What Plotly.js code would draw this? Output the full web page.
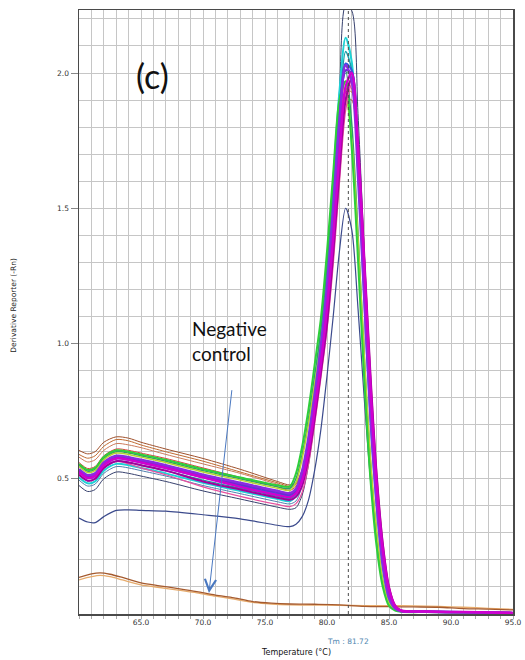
<!DOCTYPE html>
<html>
<head>
<meta charset="utf-8">
<script src="https://cdn.plot.ly/plotly-3.0.1.min.js"></script>
<style>
  html, body { margin: 0; padding: 0; background: #fff; }
  #chart { width: 525px; height: 660px; }
</style>
</head>
<body>
<div id="chart"></div>
<script>
// Melt-curve temperatures (°C) shared by the amplified wells
const temps = [60, 60.7, 61.3, 62, 63, 64, 65, 67, 70, 73, 76, 77, 77.5, 78, 78.5, 79, 79.5, 80, 80.5, 81, 81.5, 82, 82.5, 83, 83.5, 84, 84.5, 85, 85.5, 86, 88, 91, 95];

// Derivative reporter (-Rn) per well
const wellA = [0.605, 0.592, 0.60, 0.635, 0.655, 0.65, 0.635, 0.61, 0.575, 0.535, 0.49, 0.477, 0.485, 0.535, 0.635, 0.77, 0.93, 1.11, 1.37, 1.67, 1.9, 1.9, 1.61, 1.19, 0.77, 0.44, 0.2, 0.08, 0.025, 0.011, 0.009, 0.007, 0.004];
const wellB = [0.58, 0.562, 0.57, 0.605, 0.63, 0.625, 0.615, 0.59, 0.555, 0.52, 0.48, 0.467, 0.478, 0.53, 0.645, 0.79, 0.96, 1.17, 1.45, 1.76, 1.97, 1.94, 1.62, 1.19, 0.76, 0.43, 0.19, 0.068, 0.022, 0.011, 0.009, 0.007, 0.004];
const wellP = [0.59, 0.576, 0.585, 0.62, 0.645, 0.64, 0.625, 0.60, 0.565, 0.525, 0.485, 0.472, 0.48, 0.53, 0.635, 0.775, 0.94, 1.13, 1.40, 1.70, 1.93, 1.93, 1.63, 1.21, 0.78, 0.45, 0.205, 0.08, 0.025, 0.011, 0.009, 0.007, 0.004];
const wellC = [0.56, 0.538, 0.545, 0.585, 0.61, 0.605, 0.595, 0.575, 0.54, 0.505, 0.47, 0.457, 0.472, 0.515, 0.615, 0.75, 0.92, 1.12, 1.38, 1.68, 1.93, 1.98, 1.70, 1.28, 0.83, 0.48, 0.235, 0.09, 0.028, 0.012, 0.009, 0.007, 0.004];
const wellN = [0.495, 0.473, 0.48, 0.52, 0.545, 0.54, 0.53, 0.51, 0.475, 0.445, 0.415, 0.407, 0.418, 0.475, 0.59, 0.75, 0.94, 1.16, 1.44, 1.76, 2.0, 2.0, 1.70, 1.26, 0.81, 0.46, 0.215, 0.08, 0.025, 0.011, 0.009, 0.007, 0.004];
const wellM = [0.475, 0.453, 0.46, 0.50, 0.525, 0.52, 0.51, 0.49, 0.455, 0.425, 0.395, 0.387, 0.393, 0.44, 0.55, 0.72, 0.93, 1.19, 1.53, 1.93, 2.25, 2.23, 1.85, 1.34, 0.85, 0.48, 0.21, 0.075, 0.024, 0.011, 0.009, 0.007, 0.004];
const wellG = [0.505, 0.483, 0.49, 0.53, 0.555, 0.55, 0.54, 0.52, 0.485, 0.455, 0.425, 0.417, 0.437, 0.51, 0.645, 0.83, 1.03, 1.29, 1.60, 1.93, 2.13, 2.04, 1.65, 1.17, 0.72, 0.40, 0.17, 0.055, 0.018, 0.01, 0.008, 0.006, 0.004];
const wellO = [0.515, 0.493, 0.50, 0.54, 0.565, 0.56, 0.55, 0.53, 0.495, 0.465, 0.435, 0.427, 0.443, 0.515, 0.64, 0.81, 1.0, 1.23, 1.53, 1.86, 2.08, 2.01, 1.65, 1.19, 0.74, 0.42, 0.18, 0.06, 0.02, 0.01, 0.008, 0.006, 0.004];
const wellF = [0.55, 0.528, 0.535, 0.575, 0.60, 0.595, 0.585, 0.565, 0.53, 0.50, 0.47, 0.464, 0.50, 0.59, 0.72, 0.88, 1.05, 1.29, 1.60, 1.89, 2.01, 1.81, 1.41, 0.96, 0.57, 0.30, 0.12, 0.04, 0.015, 0.009, 0.008, 0.006, 0.004];
const wellE = [0.545, 0.523, 0.53, 0.57, 0.595, 0.59, 0.58, 0.56, 0.525, 0.495, 0.465, 0.457, 0.487, 0.575, 0.70, 0.85, 1.0, 1.21, 1.49, 1.77, 1.91, 1.75, 1.39, 0.96, 0.58, 0.31, 0.125, 0.04, 0.016, 0.009, 0.008, 0.006, 0.004];
const wellD = [0.555, 0.533, 0.54, 0.58, 0.605, 0.60, 0.59, 0.57, 0.535, 0.505, 0.476, 0.472, 0.52, 0.62, 0.755, 0.92, 1.09, 1.34, 1.63, 1.90, 1.97, 1.72, 1.31, 0.87, 0.50, 0.25, 0.10, 0.03, 0.013, 0.008, 0.007, 0.006, 0.004];
const wellH = [0.525, 0.503, 0.51, 0.55, 0.575, 0.57, 0.56, 0.54, 0.505, 0.475, 0.445, 0.437, 0.45, 0.51, 0.63, 0.79, 0.97, 1.195, 1.485, 1.81, 2.035, 2.01, 1.68, 1.23, 0.78, 0.44, 0.2, 0.07, 0.022, 0.011, 0.009, 0.007, 0.004];
const wellL = [0.515, 0.493, 0.50, 0.54, 0.565, 0.555, 0.54, 0.515, 0.47, 0.435, 0.405, 0.397, 0.408, 0.45, 0.55, 0.70, 0.87, 1.05, 1.29, 1.59, 1.86, 1.96, 1.74, 1.34, 0.90, 0.53, 0.27, 0.105, 0.035, 0.014, 0.01, 0.007, 0.004];
const wellK = [0.515, 0.493, 0.50, 0.54, 0.565, 0.56, 0.55, 0.53, 0.49, 0.46, 0.43, 0.422, 0.433, 0.475, 0.575, 0.72, 0.89, 1.07, 1.33, 1.63, 1.90, 1.98, 1.75, 1.33, 0.89, 0.52, 0.26, 0.10, 0.03, 0.013, 0.009, 0.007, 0.004];
const wellQ = [0.53, 0.508, 0.515, 0.555, 0.58, 0.575, 0.565, 0.545, 0.51, 0.48, 0.45, 0.442, 0.455, 0.515, 0.63, 0.79, 0.97, 1.18, 1.46, 1.78, 2.01, 2.0, 1.67, 1.22, 0.78, 0.44, 0.2, 0.07, 0.022, 0.011, 0.009, 0.007, 0.004];
const wellI = [0.535, 0.513, 0.52, 0.56, 0.585, 0.58, 0.57, 0.55, 0.515, 0.485, 0.455, 0.447, 0.463, 0.53, 0.65, 0.81, 0.99, 1.21, 1.5, 1.82, 2.03, 1.97, 1.62, 1.17, 0.73, 0.41, 0.18, 0.06, 0.02, 0.01, 0.008, 0.006, 0.004];
const wellJ = [0.525, 0.503, 0.51, 0.55, 0.575, 0.57, 0.56, 0.54, 0.505, 0.47, 0.44, 0.432, 0.446, 0.495, 0.60, 0.755, 0.925, 1.13, 1.39, 1.70, 1.95, 2.0, 1.72, 1.29, 0.84, 0.48, 0.235, 0.09, 0.028, 0.012, 0.009, 0.007, 0.004];
// Weak well with a lower peak
const wellLow = [0.355, 0.34, 0.338, 0.36, 0.383, 0.385, 0.383, 0.38, 0.367, 0.352, 0.328, 0.323, 0.332, 0.36, 0.42, 0.53, 0.68, 0.88, 1.1, 1.34, 1.5, 1.42, 1.13, 0.8, 0.5, 0.28, 0.12, 0.04, 0.013, 0.008, 0.006, 0.005, 0.003];

// Negative controls (no template)
const ntcTemps = [60, 61, 61.7, 62.5, 63.5, 65, 66.5, 68, 69.5, 71, 72.5, 74, 75.5, 77, 79, 81, 83, 85, 87, 89, 91, 93, 95];
const ntcBrown = [0.135, 0.148, 0.152, 0.147, 0.135, 0.115, 0.104, 0.094, 0.083, 0.07, 0.06, 0.046, 0.04, 0.037, 0.036, 0.034, 0.028, 0.027, 0.026, 0.025, 0.02, 0.018, 0.015];
const ntcTan = [0.126, 0.138, 0.143, 0.138, 0.126, 0.108, 0.098, 0.088, 0.078, 0.066, 0.055, 0.043, 0.037, 0.034, 0.033, 0.032, 0.031, 0.031, 0.03, 0.028, 0.025, 0.021, 0.017];

// Melting temperature and axis ticks
const meltTm = 81.72;
const xTickVals = [65, 70, 75, 80, 85, 90, 95];
const yTickVals = [0.5, 1.0, 1.5, 2.0];

// Draw order: back to front
const wells = [
  { y: ntcTan,  color: '#e6ab6c', width: 1.3, x: ntcTemps },
  { y: ntcBrown, color: '#a55a2e', width: 1.3, x: ntcTemps },
  { y: wellLow, color: '#3b4a8c', width: 1.2 },
  { y: wellA, color: '#a0522d', width: 1 },
  { y: wellB, color: '#cd7b5b', width: 1 },
  { y: wellP, color: '#c06a30', width: 1 },
  { y: wellC, color: '#dc3c3c', width: 1 },
  { y: wellN, color: '#4f7fb0', width: 1 },
  { y: wellM, color: '#37416e', width: 1 },
  { y: wellG, color: '#1ed2d6', width: 2 },
  { y: wellO, color: '#1a9ca8', width: 1.5 },
  { y: wellF, color: '#2e9e6e', width: 1.5 },
  { y: wellE, color: '#b5d334', width: 1.5 },
  { y: wellD, color: '#2ecf3a', width: 2 },
  { y: wellH, color: '#3355dd', width: 2 },
  { y: wellL, color: '#e8509f', width: 1.2 },
  { y: wellK, color: '#a3009c', width: 2 },
  { y: wellQ, color: '#6a2bd0', width: 2 },
  { y: wellI, color: '#8a2be2', width: 2.5 },
  { y: wellJ, color: '#d000d0', width: 2.5 }
];

const traces = wells.map(w => ({
  type: 'scatter',
  mode: 'lines',
  x: w.x || temps,
  y: w.y,
  line: { color: w.color, width: w.width, shape: 'spline', smoothing: 0.8 },
  hoverinfo: 'skip',
  showlegend: false
}));

const gridColor = '#c6c6c6';
const tickFont = { family: 'DejaVu Sans, sans-serif', size: 7.5, color: '#333' };

const layout = {
  width: 525,
  height: 660,
  margin: { l: 79, r: 12, t: 10, b: 46 },
  paper_bgcolor: '#ffffff',
  plot_bgcolor: '#ffffff',
  showlegend: false,
  xaxis: {
    range: [60, 95],
    tickmode: 'array',
    tickvals: xTickVals,
    ticktext: xTickVals.map(v => v.toFixed(1)),
    tickfont: tickFont,
    ticks: '',
    showgrid: true,
    gridcolor: gridColor,
    gridwidth: 1,
    minor: { dtick: 1, tick0: 60, showgrid: true, gridcolor: gridColor, gridwidth: 1, ticks: 'outside', ticklen: 3, tickcolor: '#aaa' },
    showline: true,
    mirror: true,
    linecolor: '#4a4a4a',
    linewidth: 1.5,
    zeroline: false,
    fixedrange: true
  },
  yaxis: {
    range: [0, 2.233],
    tickmode: 'array',
    tickvals: yTickVals,
    ticktext: yTickVals.map(v => v.toFixed(1)),
    tickfont: tickFont,
    ticks: 'outside',
    ticklen: 7,
    tickcolor: '#888',
    showgrid: true,
    gridcolor: gridColor,
    gridwidth: 1,
    minor: { dtick: 0.1, tick0: 0, showgrid: true, gridcolor: gridColor, gridwidth: 1 },
    showline: true,
    mirror: true,
    linecolor: '#4a4a4a',
    linewidth: 1.5,
    zeroline: false,
    fixedrange: true
  },
  shapes: [
    {
      type: 'line', xref: 'x', yref: 'paper',
      x0: meltTm, x1: meltTm, y0: 0, y1: 1,
      line: { color: '#4a4a4a', width: 1, dash: 'dot' }
    }
  ],
  annotations: [
    {
      text: '(c)', xref: 'x', yref: 'y', x: 65.9, y: 1.99,
      showarrow: false, xanchor: 'center', yanchor: 'middle',
      font: { family: 'Lato, Open Sans, sans-serif', size: 34, color: '#111' }
    },
    {
      text: 'Negative<br>control', xref: 'x', yref: 'y', x: 68.95, y: 1.01,
      showarrow: false, xanchor: 'left', yanchor: 'middle', align: 'left',
      font: { family: 'Lato, Open Sans, sans-serif', size: 19, color: '#111' }
    },
    {
      text: '', xref: 'x', yref: 'y', x: 70.48, y: 0.078,
      axref: 'x', ayref: 'y', ax: 72.34, ay: 0.833,
      showarrow: true, arrowhead: 5, arrowsize: 2.2, arrowwidth: 1, arrowcolor: '#4a78c0'
    },
    {
      text: 'Tm : ' + meltTm.toFixed(2), xref: 'x', yref: 'paper', x: meltTm, y: -0.046,
      showarrow: false, xanchor: 'center', yanchor: 'middle',
      font: { family: 'DejaVu Sans, sans-serif', size: 7.5, color: '#4f86b0' }
    },
    {
      text: 'Temperature (°C)', xref: 'paper', yref: 'paper', x: 0.5, y: -0.063,
      showarrow: false, xanchor: 'center', yanchor: 'middle',
      font: { family: 'DejaVu Sans, sans-serif', size: 8, color: '#111' }
    },
    {
      text: 'Derivative Reporter (-Rn)', xref: 'paper', yref: 'paper', x: -0.15, y: 0.512,
      showarrow: false, xanchor: 'center', yanchor: 'middle', textangle: -90,
      font: { family: 'DejaVu Sans, sans-serif', size: 7.5, color: '#222' }
    }
  ]
};

Plotly.newPlot('chart', traces, layout, { displayModeBar: false, staticPlot: true });
</script>
</body>
</html>
